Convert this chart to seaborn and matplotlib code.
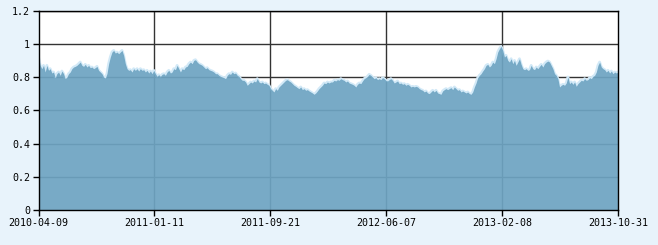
import matplotlib
matplotlib.use("Agg")
import matplotlib.pyplot as plt
import seaborn as sns
import numpy as np
import pandas as pd

# readings of the series, left to right, evenly spaced from 2010-04-09 to 2013-10-31
value_part1 = [
    0.92, 0.87, 0.85, 0.87, 0.83, 0.87, 0.84, 0.85, 0.824, 0.83, 0.796, 0.82,
    0.83, 0.81, 0.836, 0.82, 0.79, 0.80, 0.82, 0.83, 0.85, 0.86, 0.864, 0.87,
    0.88, 0.89, 0.87, 0.864, 0.876, 0.86, 0.87, 0.856, 0.86, 0.85, 0.856, 0.864,
    0.84, 0.83, 0.82, 0.80, 0.794, 0.82, 0.88, 0.92, 0.95, 0.96, 0.944, 0.95,
    0.94, 0.95, 0.96, 0.93, 0.88, 0.85, 0.84, 0.844, 0.83, 0.85, 0.84, 0.85,
    0.836, 0.85, 0.84, 0.844, 0.83, 0.84, 0.824, 0.836, 0.82, 0.84, 0.82, 0.804,
    0.814, 0.804, 0.816, 0.82, 0.81, 0.83, 0.84, 0.824, 0.83, 0.85, 0.844, 0.87,
    0.85, 0.83, 0.85, 0.844, 0.86, 0.864, 0.88, 0.89, 0.88, 0.90, 0.904, 0.89,
    0.88, 0.876, 0.87, 0.86, 0.85, 0.856, 0.844, 0.84, 0.836, 0.83, 0.82, 0.82,
    0.81, 0.804, 0.80, 0.796, 0.79, 0.81, 0.82, 0.816, 0.83, 0.82, 0.824, 0.81,
    0.804, 0.79, 0.78, 0.78, 0.77, 0.75, 0.76, 0.77, 0.764, 0.776, 0.77, 0.79,
    0.77, 0.764, 0.77, 0.76, 0.764, 0.756, 0.75, 0.73, 0.72, 0.71, 0.73, 0.72,
    0.74, 0.75, 0.76, 0.77, 0.78, 0.784, 0.776, 0.77, 0.76, 0.75, 0.744, 0.736,
    0.73, 0.74, 0.724, 0.73, 0.72, 0.724, 0.716, 0.71, 0.704, 0.696, 0.704, 0.716,
    0.73, 0.74, 0.75, 0.764, 0.76, 0.77, 0.764, 0.77,
]
value_part2 = [
    0.77, 0.78, 0.776, 0.784, 0.78, 0.79, 0.784, 0.78, 0.77, 0.776, 0.764, 0.76,
    0.756, 0.75, 0.74, 0.756, 0.764, 0.76, 0.776, 0.79, 0.796, 0.804, 0.816, 0.81,
    0.80, 0.79, 0.796, 0.784, 0.79, 0.784, 0.796, 0.79, 0.78, 0.776, 0.784, 0.79,
    0.78, 0.764, 0.77, 0.776, 0.76, 0.764, 0.756, 0.76, 0.75, 0.756, 0.75, 0.74,
    0.744, 0.74, 0.744, 0.74, 0.73, 0.724, 0.72, 0.71, 0.716, 0.704, 0.70, 0.71,
    0.72, 0.71, 0.72, 0.704, 0.70, 0.696, 0.716, 0.724, 0.73, 0.724, 0.73, 0.736,
    0.724, 0.74, 0.73, 0.72, 0.724, 0.71, 0.716, 0.71, 0.704, 0.71, 0.70, 0.696,
    0.71, 0.74, 0.764, 0.796, 0.81, 0.82, 0.836, 0.85, 0.87, 0.876, 0.86, 0.87,
    0.89, 0.88, 0.91, 0.95, 0.97, 0.984, 0.96, 0.92, 0.93, 0.90, 0.89, 0.91,
    0.88, 0.90, 0.87, 0.89, 0.91, 0.876, 0.85, 0.844, 0.85, 0.84, 0.844, 0.87,
    0.85, 0.844, 0.86, 0.85, 0.864, 0.876, 0.86, 0.88, 0.89, 0.896, 0.89, 0.87,
    0.85, 0.82, 0.81, 0.79, 0.74, 0.75, 0.756, 0.75, 0.764, 0.80, 0.76, 0.77,
    0.756, 0.77, 0.744, 0.76, 0.77, 0.78, 0.776, 0.79, 0.78, 0.784, 0.796, 0.79,
    0.804, 0.81, 0.83, 0.87, 0.89, 0.86, 0.85, 0.844, 0.83, 0.84, 0.824, 0.836,
    0.82, 0.83, 0.824, 0.83,
]
value = value_part1 + value_part2

tick_labels = ["2010-04-09", "2011-01-11", "2011-09-21", "2012-06-07",
               "2013-02-08", "2013-10-31"]
y_ticks = [0, 0.2, 0.4, 0.6, 0.8, 1.0, 1.2]
y_labels = ["0", "0.2", "0.4", "0.6", "0.8", "1", "1.2"]

# evenly spaced sample grid over the 870 trading days of the period
n_days = 870
df = pd.DataFrame({"day": np.linspace(0, n_days, len(value)), "value": value})
tick_days = np.linspace(0, n_days, len(tick_labels))

sns.set_style("white")
plt.rcParams["font.family"] = ["DejaVu Sans Mono", "Liberation Mono"]

fig = plt.figure(figsize=(6.58, 2.45), dpi=100, facecolor="#e8f3fb")
ax = fig.add_axes([38.5 / 658, 35 / 245, (618 - 38.5) / 658, (210 - 10.5) / 245])
ax.set_facecolor("white")

# grid lines under the area
for y in y_ticks[1:]:
    ax.axhline(y, color="#333333", lw=1, zorder=1)
for d in tick_days[1:-1]:
    ax.axvline(d, color="#333333", lw=1, zorder=1)

sns.lineplot(data=df, x="day", y="value", ax=ax, color="#d2e9f7", lw=2.0,
             zorder=2, legend=False)
ax.fill_between(df["day"], 0, df["value"], color="#6ea4c2", alpha=0.93,
                lw=0, zorder=3)

ax.set_xlim(0, n_days)
ax.set_ylim(0, 1.2)
ax.set_xticks(tick_days)
ax.set_xticklabels(tick_labels)
ax.set_yticks(y_ticks)
ax.set_yticklabels(y_labels)
ax.set_xlabel("")
ax.set_ylabel("")
ax.tick_params(axis="both", which="both", direction="out", length=4, width=1,
               color="black", labelsize=7.2, labelcolor="black", pad=2,
               bottom=True, left=True)
for s in ax.spines.values():
    s.set_color("black")
    s.set_linewidth(1)
    s.set_zorder(5)

fig.savefig("out.png", dpi=100, facecolor=fig.get_facecolor())
